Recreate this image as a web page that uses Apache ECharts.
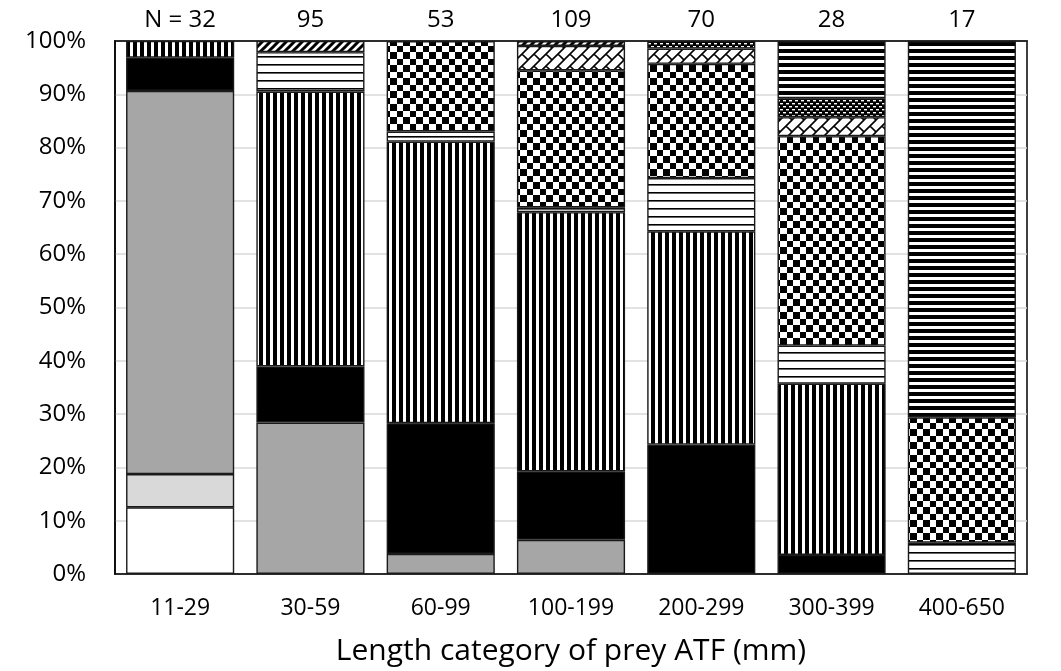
<!DOCTYPE html>
<html>
<head>
<meta charset="utf-8">
<script src="https://cdn.jsdelivr.net/npm/echarts@6/dist/echarts.min.js"></script>
<style>
  html, body { margin: 0; padding: 0; background: #fff; }
  #chart { width: 1061px; height: 671px; }
</style>
</head>
<body>
<div id="chart"></div>
<script>
// Prey length categories (mm) and number of prey items per category
const categories = ['11-29', '30-59', '60-99', '100-199', '200-299', '300-399', '400-650'];
const sampleN = [32, 95, 53, 109, 70, 28, 17];

// Percentage composition of each prey group, stacked bottom to top
const plainWhite   = [12.5, null, null, null, null, null, null];
const lightGray    = [6.25, null, null, null, null, null, null];
const midGray      = [71.88, 28.42, 3.77, 6.42, null, null, null];
const solidBlack   = [6.25, 10.53, 24.53, 12.84, 24.29, 3.57, null];
const verticalBars = [3.13, 51.58, 52.83, 48.62, 40.0, 32.14, null];
const thinLines    = [null, 7.37, 1.89, 0.92, 10.0, 7.14, 5.88];
const checkered    = [null, null, 16.98, 25.69, 21.43, 39.29, 23.53];
const diagBrick    = [null, null, null, 4.59, 2.86, 3.57, null];
const wideDiagonal = [null, 2.11, null, 0.92, null, null, null];
const dashedDots   = [null, null, null, null, 1.43, 3.57, null];
const thickLines   = [null, null, null, null, null, 10.71, 70.59];

const yTicks = { min: 0, max: 100, interval: 10 };

// Small canvas tiles used as repeating fill patterns
function tile(w, h, draw, bg) {
  const c = document.createElement('canvas');
  c.width = w; c.height = h;
  const g = c.getContext('2d');
  g.fillStyle = bg || '#fff';
  g.fillRect(0, 0, w, h);
  g.fillStyle = '#000';
  g.strokeStyle = '#000';
  draw(g, w, h);
  return { image: c, repeat: 'repeat' };
}

const patVertical = tile(7, 7, g => g.fillRect(0, 0, 4, 7));
const patThin = tile(8, 8, g => g.fillRect(0, 0, 8, 1.6));
const patThick = tile(7, 7, g => g.fillRect(0, 0, 7, 4));
const patChecker = tile(13, 13, g => { g.fillRect(0, 0, 7, 7); g.fillRect(7, 7, 6, 6); });
const patDiagonal = tile(8, 8, g => {
  g.lineWidth = 3;
  g.beginPath();
  g.moveTo(-2, 10); g.lineTo(10, -2);
  g.moveTo(-6, 6); g.lineTo(6, -6);
  g.moveTo(2, 14); g.lineTo(14, 2);
  g.stroke();
});
const patBrick = tile(12, 12, g => {
  g.lineWidth = 1.6;
  g.beginPath();
  g.moveTo(-2, 14); g.lineTo(14, -2);
  g.moveTo(-8, 8); g.lineTo(8, -8);
  g.moveTo(4, 20); g.lineTo(20, 4);
  g.moveTo(6, 6); g.lineTo(12, 12);
  g.moveTo(-6, 6); g.lineTo(0, 12);
  g.stroke();
});
const patDashed = tile(6, 6, g => {
  g.fillStyle = '#fff';
  g.fillRect(0, 1, 3, 1.4);
  g.fillRect(3, 4, 3, 1.4);
}, '#000');

const groups = [
  [plainWhite, '#ffffff'],
  [lightGray, '#d9d9d9'],
  [midGray, '#a6a6a6'],
  [solidBlack, '#000000'],
  [verticalBars, patVertical],
  [thinLines, patThin],
  [checkered, patChecker],
  [diagBrick, patBrick],
  [wideDiagonal, patDiagonal],
  [dashedDots, patDashed],
  [thickLines, patThick]
];

const font = '"Open Sans", "DejaVu Sans", sans-serif';

const series = groups.map(([values, fill]) => ({
  type: 'bar',
  stack: 'share',
  data: values,
  barCategoryGap: '17%',
  itemStyle: { color: fill, borderColor: '#1a1a1a', borderWidth: 1.4 },
  emphasis: { disabled: true },
  animation: false
}));

const chart = echarts.init(document.getElementById('chart'), null, { renderer: 'canvas' });
chart.setOption({
  animation: false,
  grid: {
    left: 115, right: 34, top: 41, bottom: 96,
    show: true, borderColor: '#000', borderWidth: 1.5, backgroundColor: 'transparent'
  },
  xAxis: [
    {
      type: 'category',
      data: categories,
      position: 'bottom',
      axisLine: { lineStyle: { color: '#000', width: 1.5 } },
      axisTick: { show: false },
      axisLabel: { color: '#000', fontSize: 23, fontFamily: font, margin: 23 },
      name: 'Length category of prey ATF (mm)',
      nameLocation: 'middle',
      nameGap: 62,
      nameTextStyle: { color: '#000', fontSize: 30, fontFamily: font }
    },
    {
      type: 'category',
      data: sampleN,
      position: 'top',
      axisLine: { lineStyle: { color: '#000', width: 1.5 } },
      axisTick: { show: false },
      axisLabel: {
        color: '#000', fontSize: 24, fontFamily: font, margin: 9,
        formatter: (v, i) => (i === 0 ? 'N = ' + v : String(v))
      }
    }
  ],
  yAxis: {
    type: 'value',
    min: yTicks.min, max: yTicks.max, interval: yTicks.interval,
    axisLine: { show: true, lineStyle: { color: '#000', width: 1.5 } },
    axisTick: { show: false },
    splitLine: { lineStyle: { color: '#d9d9d9', width: 1.5 } },
    axisLabel: { color: '#000', fontSize: 24, fontFamily: font, margin: 29, formatter: '{value}%' }
  },
  series: series
});
</script>
</body>
</html>
